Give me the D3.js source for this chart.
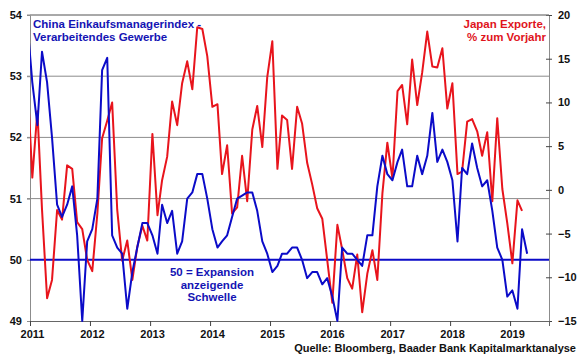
<!DOCTYPE html>
<html>
<head>
<meta charset="utf-8">
<script src="https://cdn.jsdelivr.net/npm/d3@7"></script>
<style>
  body { margin: 0; background: #fff; }
  svg { display: block; font-family: "Liberation Sans", Arial, sans-serif; font-weight: bold; }
</style>
</head>
<body>
<div id="chart"></div>
<script>
// monthly data, first value = Dez 2010 (partly outside the plot, clipped)
const startYear = 2010, startMonth = 11;

const chinaPMI = [
  53.9,
  52.9, 52.2, 53.4, 52.9, 52.0, 50.9, 50.7, 50.9, 51.2, 50.4, 49.0, 50.3,
  50.5, 51.0, 53.1, 53.3, 50.4, 50.2, 50.1, 49.2, 49.8, 50.2, 50.6, 50.6,
  50.4, 50.1, 50.9, 50.6, 50.8, 50.1, 50.3, 51.0, 51.1, 51.4, 51.4, 51.0,
  50.5, 50.2, 50.3, 50.4, 50.7, 51.0, 51.05, 51.1, 51.1, 50.8, 50.3, 50.1,
  49.8, 49.9, 50.1, 50.1, 50.2, 50.2, 50.0, 49.7, 49.8, 49.8, 49.6, 49.7,
  49.4, 49.0, 50.2, 50.1, 50.1, 50.0, 49.9, 50.4, 50.4, 51.2, 51.7, 51.4,
  51.3, 51.6, 51.8, 51.2, 51.2, 51.7, 51.4, 51.7, 52.4, 51.6, 51.8, 51.6,
  51.3, 50.3, 51.5, 51.4, 51.9, 51.5, 51.2, 51.3, 50.8, 50.2, 50.0, 49.4,
  49.5, 49.2, 50.5, 50.1
];

const japanExports = [
  13.0,
  1.4, 9.0, -2.2, -12.4, -10.3, -2.3, -3.4, 2.8, 2.4, -3.7, -4.5, -8.0,
  -9.3, -2.7, 5.9, 7.9, 10.0, -2.3, -8.1, -5.8, -10.3, -6.5, -4.1, -5.8,
  6.4, -2.9, 1.1, 3.8, 10.1, 7.4, 12.2, 14.7, 11.5, 18.6, 18.4, 15.3,
  9.5, 9.8, 1.8, 5.1, -2.7, -2.0, 3.9, -1.3, 6.9, 9.6, 4.9, 12.9,
  17.0, 2.4, 8.5, 8.0, 2.4, 9.5, 7.6, 3.1, 0.6, -2.1, -3.3, -8.0,
  -12.9, -4.0, -6.8, -10.1, -11.3, -7.4, -14.0, -9.6, -6.9, -10.3, -0.4, 5.4,
  1.3, 11.3, 12.0, 7.5, 14.9, 9.7, 13.4, 18.1, 14.1, 14.0, 16.2, 9.3,
  12.2, 1.8, 2.1, 7.8, 8.1, 6.7, 3.9, 6.6, -1.3, 8.2, 0.1, -3.8,
  -8.4, -1.2, -2.4
];

const leftTicks = [49, 50, 51, 52, 53, 54];
const rightTicks = [-15, -10, -5, 0, 5, 10, 15, 20];
const yearTicks = [2011, 2012, 2013, 2014, 2015, 2016, 2017, 2018, 2019];
const threshold = 50;

const width = 580, height = 359;
const m = { left: 30, right: 31, top: 15, bottom: 38 };
const blue = "#0b0bc8", red = "#e8141c", grid = "#8c8c8c";

const svg = d3.select("#chart").append("svg")
  .attr("width", width)
  .attr("height", height);

const x = d3.scaleTime()
  .domain([new Date(2011, 0, 1), new Date(2019, 7, 26)])
  .range([m.left, width - m.right]);
const yL = d3.scaleLinear().domain([49, 54]).range([height - m.bottom, m.top]);
const yR = d3.scaleLinear().domain([-15, 20]).range([height - m.bottom, m.top]);

const dateOf = i => new Date(startYear, startMonth + i, 15);

svg.append("clipPath").attr("id", "plot")
  .append("rect")
  .attr("x", m.left).attr("y", 0)
  .attr("width", width - m.left - m.right).attr("height", height);

// gridlines (left scale)
svg.append("g")
  .selectAll("line")
  .data(leftTicks.filter(d => d > 50))
  .join("line")
  .attr("x1", m.left - 3).attr("x2", width - m.right)
  .attr("y1", d => yL(d)).attr("y2", d => yL(d))
  .attr("stroke", grid).attr("stroke-width", 1);

// left axis
const leftAxis = svg.append("g")
  .attr("transform", `translate(${m.left},0)`)
  .call(d3.axisLeft(yL).tickValues(leftTicks).tickSize(3).tickPadding(5).tickFormat(d3.format("d")));
leftAxis.select(".domain").attr("stroke", grid);
leftAxis.selectAll(".tick line").attr("stroke", grid);
leftAxis.selectAll("text").attr("font-size", 11).attr("font-weight", "bold")
  .attr("font-family", "Liberation Sans, Arial, sans-serif").attr("fill", "#111");

// right axis
const rightAxis = svg.append("g")
  .attr("transform", `translate(${width - m.right},0)`)
  .call(d3.axisRight(yR).tickValues(rightTicks).tickSize(3).tickPadding(6).tickFormat(d3.format("d")));
rightAxis.select(".domain").attr("stroke", grid);
rightAxis.selectAll(".tick line").attr("x1", -3).attr("stroke", "#444");
rightAxis.selectAll("text").attr("font-size", 11).attr("font-weight", "bold")
  .attr("font-family", "Liberation Sans, Arial, sans-serif").attr("fill", "#111");

// bottom axis
const bottomAxis = svg.append("g")
  .attr("transform", `translate(0,${height - m.bottom})`)
  .call(d3.axisBottom(x)
    .tickValues(yearTicks.map(y => new Date(y, 0, 1)))
    .tickSize(5).tickPadding(4).tickFormat(d3.timeFormat("%Y")));
bottomAxis.select(".domain").attr("stroke", "#666");
bottomAxis.selectAll(".tick line").attr("stroke", "#444");
bottomAxis.selectAll("text").attr("font-size", 11).attr("font-weight", "bold")
  .attr("font-family", "Liberation Sans, Arial, sans-serif").attr("fill", "#111")
  .attr("dx", 2);

// top border line
svg.append("line")
  .attr("x1", m.left).attr("x2", width - m.right)
  .attr("y1", yL(54)).attr("y2", yL(54))
  .attr("stroke", grid);

// 50 threshold
svg.append("line")
  .attr("x1", m.left).attr("x2", width - m.right)
  .attr("y1", yL(threshold)).attr("y2", yL(threshold))
  .attr("stroke", blue).attr("stroke-width", 2);

const lines = svg.append("g").attr("clip-path", "url(#plot)");

lines.append("path")
  .datum(japanExports)
  .attr("fill", "none")
  .attr("stroke", red)
  .attr("stroke-width", 2)
  .attr("stroke-linejoin", "round")
  .attr("d", d3.line().x((d, i) => x(dateOf(i))).y(d => yR(d)));

lines.append("path")
  .datum(chinaPMI)
  .attr("fill", "none")
  .attr("stroke", blue)
  .attr("stroke-width", 2)
  .attr("stroke-linejoin", "round")
  .attr("d", d3.line().x((d, i) => x(dateOf(i))).y(d => yL(d)));

// labels
const label = (lines, xPos, y0, anchor, color, size) => {
  const t = svg.append("text")
    .attr("text-anchor", anchor)
    .attr("fill", color)
    .attr("font-size", size);
  lines.forEach((s, i) => t.append("tspan").attr("x", xPos).attr("y", y0 + i * 12.5).text(s));
};

label(["China Einkaufsmanagerindex -", "Verarbeitendes Gewerbe"], 33, 28, "start", "#1414b4", 11.5);
label(["Japan Exporte,", "% zum Vorjahr"], 546, 28, "end", "#e0141c", 11.5);
label(["50 = Expansion", "anzeigende", "Schwelle"], 212, 276, "middle", "#1414b4", 11.5);

svg.append("text")
  .attr("x", 576).attr("y", 352)
  .attr("text-anchor", "end")
  .attr("font-size", 11)
  .attr("fill", "#111")
  .text("Quelle: Bloomberg, Baader Bank Kapitalmarktanalyse");
</script>
</body>
</html>
